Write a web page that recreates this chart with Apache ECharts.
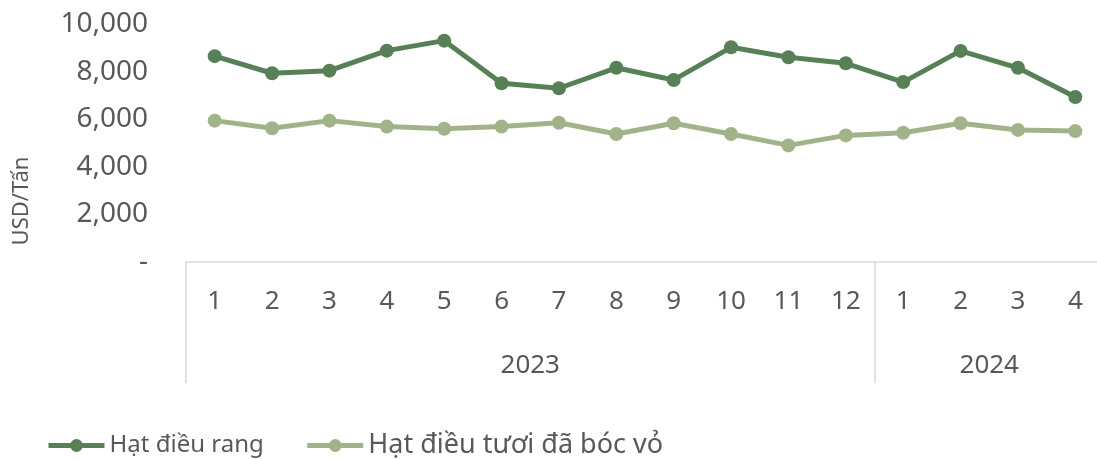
<!DOCTYPE html>
<html>
<head>
<meta charset="utf-8">
<script src="https://cdn.jsdelivr.net/npm/echarts@6/dist/echarts.min.js"></script>
<style>
  html, body { margin: 0; padding: 0; background: #fff; }
  #chart { width: 1097px; height: 459px; }
</style>
</head>
<body>
<div id="chart"></div>
<script>
// tháng (2023: 1-12, 2024: 1-4)
var months = ['1','2','3','4','5','6','7','8','9','10','11','12','1','2','3','4'];
var years = ['2023', '2024'];
var yearCenters = [6, 14];      // giữa mỗi nhóm năm, tính theo số tháng
var yearBounds = [0, 12, 16];   // đường phân cách giữa các năm

var hatDieuRang = [8650, 7930, 8040, 8880, 9300, 7510, 7300, 8160, 7650, 9020, 8600, 8350, 7560, 8870, 8160, 6930];
var hatDieuTuoi = [5940, 5620, 5940, 5690, 5600, 5690, 5850, 5380, 5830, 5380, 4900, 5320, 5430, 5830, 5550, 5500];

var yTicks = [0, 2000, 4000, 6000, 8000, 10000];

var textColor = '#595959';
var lineGrey = '#d9d9d9';

var myChart = echarts.init(document.getElementById('chart'));
var option = {
    animation: false,
    textStyle: { fontFamily: 'Noto Sans' },
    grid: {
        left: 186,
        top: 24,
        width: 918,
        height: 238,
        outerBoundsMode: 'none'
    },
    legend: {
        left: 46,
        top: 432,
        padding: 0,
        itemWidth: 56,
        itemHeight: 16,
        itemGap: 41,
        lineStyle: { width: 5 },
        textStyle: { color: textColor, fontFamily: 'Noto Sans' },
        data: [
            { name: 'Hạt điều rang', textStyle: { fontSize: 24 } },
            { name: 'Hạt điều tươi đã bóc vỏ', textStyle: { fontSize: 27 } }
        ]
    },
    xAxis: [
        {
            type: 'category',
            data: months,
            boundaryGap: true,
            axisLine: { show: true, lineStyle: { color: lineGrey, width: 1.5 } },
            axisTick: { show: false },
            axisLabel: { color: textColor, fontSize: 26, margin: 27, interval: 0 },
            splitLine: { show: false }
        },
        {
            // trục phụ cho nhãn năm và vạch phân cách
            type: 'value',
            position: 'bottom',
            min: 0,
            max: 16,
            interval: 2,
            axisLine: { show: false },
            axisTick: {
                show: true,
                customValues: yearBounds,
                length: 121,
                lineStyle: { color: lineGrey, width: 1.5 }
            },
            axisLabel: {
                color: textColor,
                fontSize: 26,
                margin: 91,
                customValues: yearCenters,
                formatter: function (v) {
                    var i = yearCenters.indexOf(v);
                    return i >= 0 ? years[i] : '';
                }
            },
            splitLine: { show: false }
        }
    ],
    yAxis: {
        type: 'value',
        min: yTicks[0],
        max: yTicks[yTicks.length - 1],
        interval: 2000,
        name: 'USD/Tấn',
        nameLocation: 'middle',
        nameRotate: 90,
        nameGap: 153,
        nameTextStyle: { color: textColor, fontSize: 22, padding: [0, 116, 0, 0] },
        axisLine: { show: false },
        axisTick: { show: false },
        splitLine: { show: false },
        axisLabel: {
            color: textColor,
            fontSize: 28,
            margin: 38,
            formatter: function (v) {
                return v === 0 ? '-' : v.toLocaleString('en-US');
            }
        }
    },
    series: [
        {
            name: 'Hạt điều rang',
            type: 'line',
            xAxisIndex: 0,
            data: hatDieuRang,
            symbol: 'circle',
            symbolSize: 14,
            itemStyle: { color: '#578057' },
            lineStyle: { color: '#578057', width: 5 }
        },
        {
            name: 'Hạt điều tươi đã bóc vỏ',
            type: 'line',
            xAxisIndex: 0,
            data: hatDieuTuoi,
            symbol: 'circle',
            symbolSize: 14,
            itemStyle: { color: '#a2b38a' },
            lineStyle: { color: '#a2b38a', width: 5 }
        }
    ]
};
myChart.setOption(option);
</script>
</body>
</html>
